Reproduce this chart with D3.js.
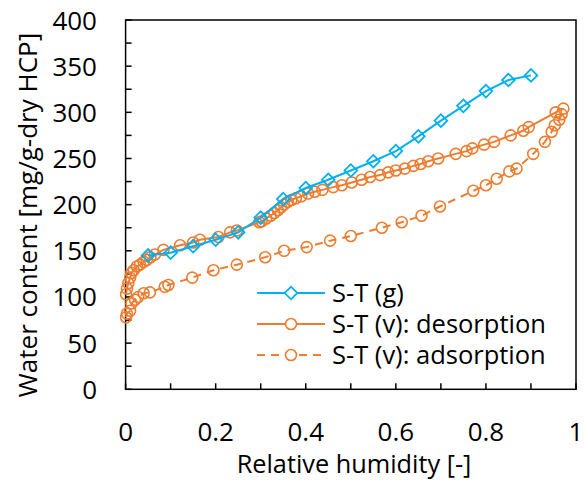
<!DOCTYPE html>
<html>
<head>
<meta charset="UTF-8">
<style>
  body { margin: 0; background: #fff; }
  text { font-family: "Open Sans", sans-serif; fill: #000; }
</style>
</head>
<body>
<svg id="chart"></svg>
<script src="https://d3js.org/d3.v7.min.js"></script>
<script>
// S-T (g): gravimetric
const gRH = [0.05, 0.10, 0.15, 0.20, 0.25, 0.30, 0.35, 0.40, 0.45, 0.50, 0.55, 0.60, 0.65, 0.70, 0.75, 0.80, 0.85, 0.90];
const gW  = [145, 148, 155, 162, 170, 186, 206, 218, 227, 237, 247, 258, 274, 291, 307, 323, 335, 340];

// S-T (v): desorption
const desRH = [0.972, 0.955, 0.895, 0.883, 0.855, 0.818, 0.796, 0.770, 0.757, 0.733, 0.694, 0.672, 0.655, 0.639, 0.620, 0.600,
  0.583, 0.565, 0.543, 0.524, 0.502, 0.480, 0.461, 0.437, 0.420, 0.405, 0.390, 0.378, 0.368, 0.360, 0.352, 0.345, 0.338,
  0.330, 0.322, 0.312, 0.302, 0.297, 0.247, 0.232, 0.206, 0.165, 0.150, 0.121, 0.084, 0.065, 0.055, 0.047, 0.040, 0.032,
  0.025, 0.018, 0.013, 0.010, 0.006, 0.003, 0.001];
const desW  = [304, 300, 284, 280, 275, 268, 265, 261, 258, 255, 250, 247, 244, 242, 239, 237,
  235, 232, 230, 227, 224, 221, 219, 216, 214, 212, 209, 207, 205, 203, 200, 197, 194,
  191, 188, 185, 182, 181, 172, 170, 165, 162, 159, 156, 151, 146, 143, 140, 138, 135,
  133, 129, 126, 121, 115, 109, 103];

// S-T (v): adsorption
const adsRH = [0.001, 0.003, 0.010, 0.013, 0.021, 0.028, 0.040, 0.054, 0.087, 0.095, 0.148, 0.195, 0.247, 0.310, 0.352,
  0.402, 0.454, 0.500, 0.569, 0.613, 0.657, 0.698, 0.772, 0.800, 0.824, 0.852, 0.868, 0.905, 0.931, 0.946, 0.953, 0.963, 0.968];
const adsW  = [78, 82, 85, 93, 97, 100, 104, 105, 111, 113, 121, 129, 135, 143, 150,
  154, 161, 166, 175, 181, 188, 198, 215, 221, 228, 236, 239, 255, 268, 279, 286, 292, 298];

const xTicks = [0, 0.2, 0.4, 0.6, 0.8, 1];
const yTicks = [0, 50, 100, 150, 200, 250, 300, 350, 400];
const seriesNames = ["S-T (g)", "S-T (v): desorption", "S-T (v): adsorption"];

const width = 584, height = 481;
const blue = "#00B0F0", orange = "#ED7D31";

const svg = d3.select("#chart").attr("width", width).attr("height", height);

const x = d3.scaleLinear().domain([0, 1]).range([125.6, 576]);
const y = d3.scaleLinear().domain([0, 400]).range([389.3, 20]);

// ticks inside the frame
const axisG = svg.append("g");
axisG.selectAll(".xt").data(d3.range(0, 11).map(d => d / 10)).enter().append("line")
  .attr("x1", d => x(d)).attr("x2", d => x(d))
  .attr("y1", y(0)).attr("y2", y(0) - 6)
  .attr("stroke", "#000").attr("stroke-width", 1.5);
axisG.selectAll(".yt").data(d3.range(0, 17).map(d => d * 25)).enter().append("line")
  .attr("x1", x(0)).attr("x2", x(0) + 6)
  .attr("y1", d => y(d)).attr("y2", d => y(d))
  .attr("stroke", "#000").attr("stroke-width", 1.5);

svg.append("rect")
  .attr("x", x(0)).attr("y", y(400))
  .attr("width", x(1) - x(0)).attr("height", y(0) - y(400))
  .attr("fill", "none").attr("stroke", "#000").attr("stroke-width", 1.5);

axisG.selectAll(".xl").data(xTicks).enter().append("text")
  .attr("x", d => x(d)).attr("y", 441)
  .attr("text-anchor", "middle").attr("font-size", 26)
  .text(d => d3.format("~g")(d));
axisG.selectAll(".yl").data(yTicks).enter().append("text")
  .attr("x", 97).attr("y", d => y(d) + 9.5)
  .attr("text-anchor", "end").attr("font-size", 26)
  .text(d => d);

svg.append("text").attr("x", 354).attr("y", 473)
  .attr("text-anchor", "middle").attr("font-size", 25.3)
  .text("Relative humidity [-]");
svg.append("text").attr("transform", "translate(37,215) rotate(-90)")
  .attr("text-anchor", "middle").attr("font-size", 26)
  .text("Water content [mg/g-dry HCP]");

const line = d3.line().x(d => x(d[0])).y(d => y(d[1]));

const ads = d3.zip(adsRH, adsW), des = d3.zip(desRH, desW), grav = d3.zip(gRH, gW);

const plot = svg.append("g");
plot.append("path").datum(ads).attr("d", line)
  .attr("fill", "none").attr("stroke", orange).attr("stroke-width", 2).attr("stroke-dasharray", "8,6");
plot.selectAll(".ac").data(ads).enter().append("circle")
  .attr("cx", d => x(d[0])).attr("cy", d => y(d[1])).attr("r", 5.5)
  .attr("fill", "none").attr("stroke", orange).attr("stroke-width", 1.6);

plot.append("path").datum(des).attr("d", line)
  .attr("fill", "none").attr("stroke", orange).attr("stroke-width", 2);
plot.selectAll(".dc").data(des).enter().append("circle")
  .attr("cx", d => x(d[0])).attr("cy", d => y(d[1])).attr("r", 5.5)
  .attr("fill", "none").attr("stroke", orange).attr("stroke-width", 1.6);

plot.append("path").datum(grav).attr("d", line)
  .attr("fill", "none").attr("stroke", blue).attr("stroke-width", 2);
plot.selectAll(".gd").data(grav).enter().append("path")
  .attr("transform", d => `translate(${x(d[0])},${y(d[1])}) rotate(45)`)
  .attr("d", d3.symbol().type(d3.symbolSquare).size(80))
  .attr("fill", "none").attr("stroke", blue).attr("stroke-width", 1.8);

// legend
const legend = svg.append("g");
const legY = [293, 324, 355];
const legStyle = [
  { c: blue, dash: null, m: "d" },
  { c: orange, dash: null, m: "c" },
  { c: orange, dash: "8,6", m: "c" }
];
seriesNames.forEach((name, i) => {
  const s = legStyle[i];
  legend.append("line").attr("x1", 257).attr("x2", 325)
    .attr("y1", legY[i]).attr("y2", legY[i])
    .attr("stroke", s.c).attr("stroke-width", 2)
    .attr("stroke-dasharray", s.dash);
  if (s.m === "d") {
    legend.append("path").attr("transform", `translate(291,${legY[i]}) rotate(45)`)
      .attr("d", d3.symbol().type(d3.symbolSquare).size(80))
      .attr("fill", "#fff").attr("stroke", s.c).attr("stroke-width", 1.8);
  } else {
    legend.append("circle").attr("cx", 291).attr("cy", legY[i]).attr("r", 5.5)
      .attr("fill", "#fff").attr("stroke", s.c).attr("stroke-width", 1.6);
  }
  legend.append("text").attr("x", 332).attr("y", legY[i] + 9)
    .attr("font-size", 25.5).text(name);
});
</script>
</body>
</html>
